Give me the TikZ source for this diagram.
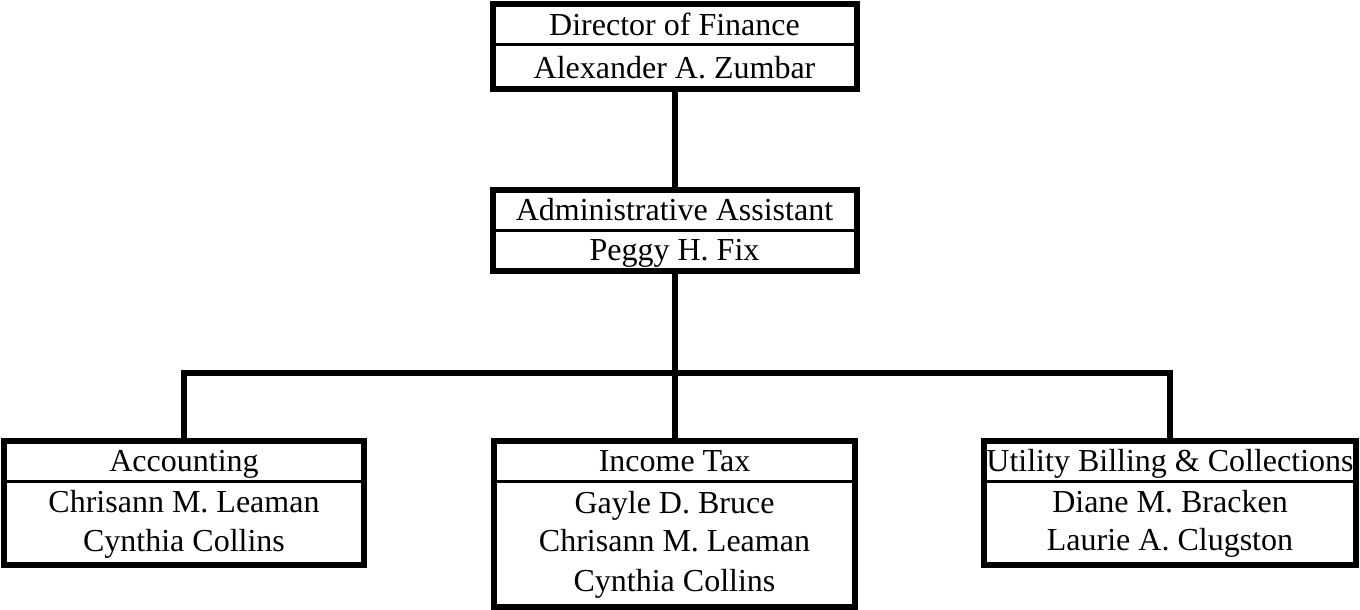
\documentclass[tikz,border=0pt]{standalone}
\usepackage{fontspec}
\setmainfont{Liberation Serif}
\begin{document}
\begin{tikzpicture}[x=1pt,y=-1pt,
  outerbox/.style={draw=black, line width=6pt, rectangle, inner sep=0pt, line join=miter, fill=white},
  lbl/.style={inner sep=0pt, font=\fontsize{32}{39}\selectfont, text height=27pt, text depth=6pt, anchor=center},
  divider/.style={line width=3pt},
  conn/.style={line width=6pt, line join=miter}]
\useasboundingbox (0,0) rectangle (1360,610);
\coordinate (bus) at (674.5,373);
% boxes
\node[outerbox, minimum width=364pt, minimum height=85pt] (dir) at (674.5,46.5) {};
\node[outerbox, minimum width=364pt, minimum height=81pt] (adm) at (674.5,230.5) {};
\node[outerbox, minimum width=360pt, minimum height=124pt] (acc) at (184,503) {};
\node[outerbox, minimum width=361pt, minimum height=166pt] (inc) at (674.5,524) {};
\node[outerbox, minimum width=372pt, minimum height=124pt] (utl) at (1170,503) {};
% connectors
\draw[conn] (dir.south) -- (adm.north);
\draw[conn] (adm.south) -- (inc.north);
\draw[conn] (acc.north) |- (bus) -| (utl.north);
% dividers
\draw[divider] (dir.west |- 0,45) -- (dir.east |- 0,45);
\draw[divider] (adm.west |- 0,230) -- (adm.east |- 0,230);
\draw[divider] (acc.west |- 0,481) -- (acc.east |- 0,481);
\draw[divider] (inc.west |- 0,481) -- (inc.east |- 0,481);
\draw[divider] (utl.west |- 0,481) -- (utl.east |- 0,481);
% texts
\node[lbl] (dirT) at (674.5,25) {Director of Finance};
\node[lbl] (dirN) at (674.5,68) {Alexander A. Zumbar};
\node[lbl] (admT) at (674.5,210) {Administrative Assistant};
\node[lbl] (admN) at (674.5,250) {Peggy H. Fix};
\node[lbl] (accT) at (184,461) {Accounting};
\node[lbl] (accN1) at (184,502) {Chrisann M. Leaman};
\node[lbl] (accN2) at (184,541) {Cynthia Collins};
\node[lbl] (incT) at (674.5,461) {Income Tax};
\node[lbl] (incN1) at (674.5,503) {Gayle D. Bruce};
\node[lbl] (incN2) at (674.5,541) {Chrisann M. Leaman};
\node[lbl] (incN3) at (674.5,581) {Cynthia Collins};
\node[lbl] (utlT) at (1170,461) {Utility Billing \& Collections};
\node[lbl] (utlN1) at (1170,502) {Diane M. Bracken};
\node[lbl] (utlN2) at (1170,540) {Laurie A. Clugston};
\end{tikzpicture}
\end{document}
